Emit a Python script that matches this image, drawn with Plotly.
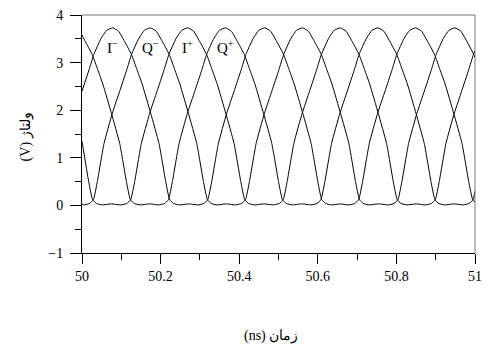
import plotly.graph_objects as go

# ---- data (time in ns, voltage in V) ----
i_minus_t = [50.000, 50.018, 50.030, 50.048, 50.063, 50.078, 50.093, 50.108, 50.126, 50.140, 50.153, 50.175,
             50.196, 50.213, 50.223, 50.233, 50.248, 50.268,
             50.275, 50.295, 50.310, 50.320, 50.330, 50.347, 50.368, 50.387, 50.405, 50.417, 50.435, 50.450,
             50.465, 50.480, 50.495, 50.513, 50.527, 50.540, 50.562, 50.583, 50.600, 50.610, 50.620, 50.635, 50.655,
             50.659, 50.679, 50.694, 50.704, 50.714, 50.731, 50.752, 50.771, 50.789, 50.801, 50.819, 50.834,
             50.849, 50.864, 50.879, 50.897, 50.911, 50.924, 50.946, 50.967, 50.984, 50.994, 51.000]
i_minus_v = [2.40, 2.85, 3.17, 3.50, 3.68, 3.73, 3.66, 3.45, 3.17, 2.85, 2.55, 1.93,
             1.30, 0.50, 0.12, 0.04, 0.01, 0.03,
             0.03, 0.01, 0.04, 0.12, 0.50, 1.30, 1.93, 2.40, 2.85, 3.17, 3.50, 3.68,
             3.73, 3.66, 3.45, 3.17, 2.85, 2.55, 1.93, 1.30, 0.50, 0.12, 0.04, 0.01, 0.03,
             0.03, 0.01, 0.04, 0.12, 0.50, 1.30, 1.93, 2.40, 2.85, 3.17, 3.50, 3.68,
             3.73, 3.66, 3.45, 3.17, 2.85, 2.55, 1.93, 1.30, 0.50, 0.12, 0.06]

q_minus_t = [50.000, 50.004, 50.019, 50.029, 50.039, 50.056, 50.077, 50.096, 50.114, 50.126, 50.144, 50.159,
             50.174, 50.189, 50.204, 50.222, 50.236, 50.249, 50.271, 50.292, 50.309, 50.319, 50.329, 50.344, 50.364,
             50.371, 50.391, 50.406, 50.416, 50.426, 50.443, 50.464, 50.483, 50.501, 50.513, 50.531, 50.546,
             50.561, 50.576, 50.591, 50.609, 50.623, 50.636, 50.658, 50.679, 50.696, 50.706, 50.716, 50.731, 50.751,
             50.759, 50.779, 50.794, 50.804, 50.814, 50.831, 50.852, 50.871, 50.889, 50.901, 50.919, 50.934,
             50.949, 50.964, 50.979, 50.997, 51.000]
q_minus_v = [0.03, 0.01, 0.04, 0.12, 0.50, 1.30, 1.93, 2.40, 2.85, 3.17, 3.50, 3.68,
             3.73, 3.66, 3.45, 3.17, 2.85, 2.55, 1.93, 1.30, 0.50, 0.12, 0.04, 0.01, 0.03,
             0.03, 0.01, 0.04, 0.12, 0.50, 1.30, 1.93, 2.40, 2.85, 3.17, 3.50, 3.68,
             3.73, 3.66, 3.45, 3.17, 2.85, 2.55, 1.93, 1.30, 0.50, 0.12, 0.04, 0.01, 0.03,
             0.03, 0.01, 0.04, 0.12, 0.50, 1.30, 1.93, 2.40, 2.85, 3.17, 3.50, 3.68,
             3.73, 3.66, 3.45, 3.17, 3.10]

i_plus_t = [50.000, 50.017, 50.027, 50.037, 50.052, 50.072,
            50.079, 50.099, 50.114, 50.124, 50.134, 50.151, 50.172, 50.191, 50.209, 50.221, 50.239, 50.254,
            50.269, 50.284, 50.299, 50.317, 50.331, 50.344, 50.366, 50.387, 50.404, 50.414, 50.424, 50.439, 50.459,
            50.467, 50.487, 50.502, 50.512, 50.522, 50.539, 50.560, 50.579, 50.597, 50.609, 50.627, 50.642,
            50.657, 50.672, 50.687, 50.705, 50.719, 50.732, 50.754, 50.775, 50.792, 50.802, 50.812, 50.827, 50.847,
            50.854, 50.874, 50.889, 50.899, 50.909, 50.926, 50.947, 50.966, 50.984, 50.996, 51.000]
i_plus_v = [1.35, 0.50, 0.12, 0.04, 0.01, 0.03,
            0.03, 0.01, 0.04, 0.12, 0.50, 1.30, 1.93, 2.40, 2.85, 3.17, 3.50, 3.68,
            3.73, 3.66, 3.45, 3.17, 2.85, 2.55, 1.93, 1.30, 0.50, 0.12, 0.04, 0.01, 0.03,
            0.03, 0.01, 0.04, 0.12, 0.50, 1.30, 1.93, 2.40, 2.85, 3.17, 3.50, 3.68,
            3.73, 3.66, 3.45, 3.17, 2.85, 2.55, 1.93, 1.30, 0.50, 0.12, 0.04, 0.01, 0.03,
            0.03, 0.01, 0.04, 0.12, 0.50, 1.30, 1.93, 2.40, 2.85, 3.17, 3.25]

q_plus_t = [50.000, 50.008, 50.026, 50.040, 50.053, 50.075, 50.096, 50.113, 50.123, 50.133, 50.148, 50.168,
            50.175, 50.195, 50.210, 50.220, 50.230, 50.247, 50.268, 50.287, 50.305, 50.317, 50.335, 50.350,
            50.365, 50.380, 50.395, 50.413, 50.427, 50.440, 50.462, 50.483, 50.500, 50.510, 50.520, 50.535, 50.555,
            50.563, 50.583, 50.598, 50.608, 50.618, 50.635, 50.656, 50.675, 50.693, 50.705, 50.723, 50.738,
            50.753, 50.768, 50.783, 50.801, 50.815, 50.828, 50.850, 50.871, 50.888, 50.898, 50.908, 50.923, 50.943,
            50.950, 50.970, 50.985, 50.995, 51.000]
q_plus_v = [3.58, 3.45, 3.17, 2.85, 2.55, 1.93, 1.30, 0.50, 0.12, 0.04, 0.01, 0.03,
            0.03, 0.01, 0.04, 0.12, 0.50, 1.30, 1.93, 2.40, 2.85, 3.17, 3.50, 3.68,
            3.73, 3.66, 3.45, 3.17, 2.85, 2.55, 1.93, 1.30, 0.50, 0.12, 0.04, 0.01, 0.03,
            0.03, 0.01, 0.04, 0.12, 0.50, 1.30, 1.93, 2.40, 2.85, 3.17, 3.50, 3.68,
            3.73, 3.66, 3.45, 3.17, 2.85, 2.55, 1.93, 1.30, 0.50, 0.12, 0.04, 0.01, 0.03,
            0.03, 0.01, 0.04, 0.12, 0.30]

signal_names = ["I-", "Q-", "I+", "Q+"]
label_texts = ["I<sup>−</sup>", "Q<sup>−</sup>", "I<sup>+</sup>", "Q<sup>+</sup>"]
label_t = [50.078, 50.174, 50.269, 50.365]
label_v = [3.32, 3.32, 3.32, 3.32]

x_ticks = [50, 50.2, 50.4, 50.6, 50.8, 51]
x_tick_text = ["50", "50.2", "50.4", "50.6", "50.8", "51"]
y_ticks = [-1, 0, 1, 2, 3, 4]
y_tick_text = ["−1", "0", "1", "2", "3", "4"]

# titles written in visual (right-to-left) order as they appear in the reference
x_title = "(ns) زمان"
y_title = "(V) ولتاژ"

FONT = "Liberation Serif, Times New Roman, serif"

fig = go.Figure()
for name, t, v in zip(signal_names,
                      [i_minus_t, q_minus_t, i_plus_t, q_plus_t],
                      [i_minus_v, q_minus_v, i_plus_v, q_plus_v]):
    fig.add_trace(go.Scatter(x=t, y=v, mode="lines", name=name,
                             line=dict(color="black", width=1, shape="spline", smoothing=0.4),
                             showlegend=False, hoverinfo="skip"))

for txt, t, v in zip(label_texts, label_t, label_v):
    fig.add_annotation(x=t, y=v, text=txt, showarrow=False,
                       font=dict(family=FONT, size=15, color="black"), xanchor="center", yanchor="middle")

fig.add_annotation(xref="paper", yref="paper", x=0.48, y=-0.35, text=x_title, showarrow=False,
                   font=dict(family=FONT, size=14, color="black"), xanchor="center", yanchor="middle")
fig.add_annotation(xref="paper", yref="paper", x=-0.1425, y=0.49, text=y_title, showarrow=False, textangle=-90,
                   font=dict(family=FONT, size=14, color="black"), xanchor="center", yanchor="middle")

# top and right frame lines (grey)
fig.add_shape(type="line", xref="paper", yref="paper", x0=0, x1=1, y0=1, y1=1, line=dict(color="#777", width=1))
fig.add_shape(type="line", xref="paper", yref="paper", x0=1, x1=1, y0=0, y1=1, line=dict(color="#777", width=1))

fig.update_xaxes(range=[50, 51], tickvals=x_ticks, ticktext=x_tick_text, ticks="outside", ticklen=10,
                 tickcolor="black", tickwidth=1, showline=True, linecolor="black", linewidth=1,
                 showgrid=False, zeroline=False, ticklabelstandoff=0, ticklabeloverflow="allow",
                 tickfont=dict(family=FONT, size=14, color="black"),
                 minor=dict(dtick=0.1, ticks="outside", ticklen=6, tickcolor="black", tickwidth=1, showgrid=False))
fig.update_yaxes(range=[-1, 4], tickvals=y_ticks, ticktext=y_tick_text, ticks="outside", ticklen=11,
                 tickcolor="black", tickwidth=1, showline=True, linecolor="black", linewidth=1,
                 showgrid=False, zeroline=False, ticklabelstandoff=4, ticklabeloverflow="allow",
                 tickfont=dict(family=FONT, size=14, color="black"),
                 minor=dict(dtick=0.5, ticks="outside", ticklen=6, tickcolor="black", tickwidth=1, showgrid=False))

fig.update_layout(width=490, height=347, margin=dict(l=82, r=8, t=13, b=94),
                  paper_bgcolor="white", plot_bgcolor="white", showlegend=False)

# remove the default 8px page margin so the figure sits at the window's top-left corner
fig.write_html("out.html", config={"displayModeBar": False},
               post_script="document.body.style.margin='0';")
